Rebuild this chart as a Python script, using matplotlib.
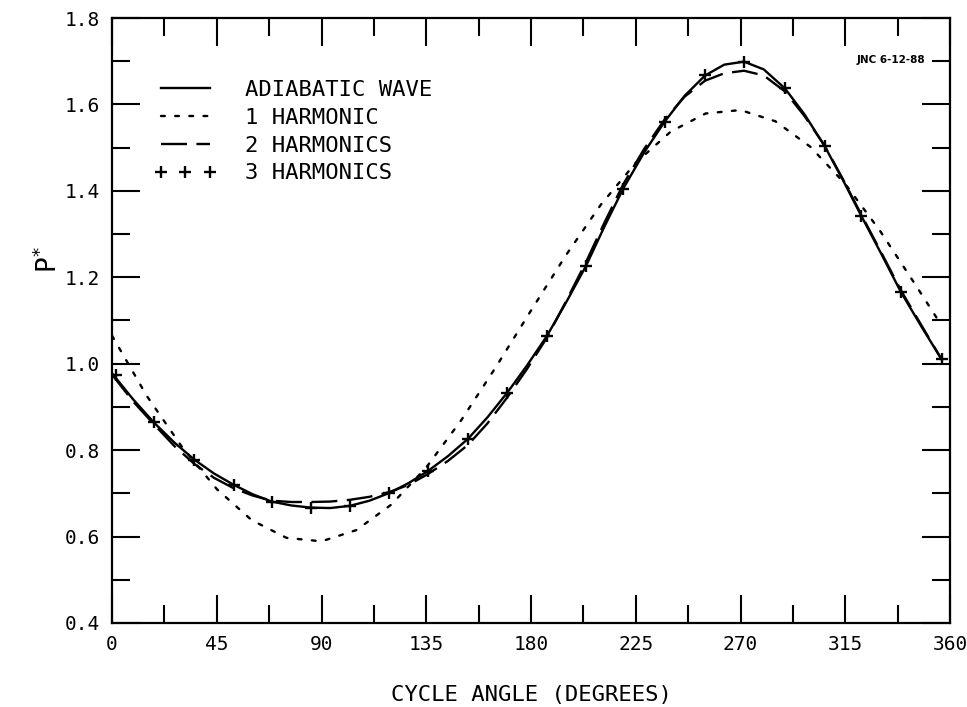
import matplotlib
matplotlib.use('Agg')
import matplotlib.pyplot as plt
from matplotlib.ticker import MultipleLocator, FormatStrFormatter

# ---- data ----
adiabatic_angle = [0, 9, 18.0, 26.7, 35.4, 43.8, 52.2, 60.4, 68.6, 77, 85.4, 93.7, 102.1,
                   110.6, 119.2, 127.5, 135.8, 144.3, 152.9, 161.3, 169.8, 178.3, 186.8,
                   195.2, 203.6, 211.6, 219.6, 228.5, 237.4, 246, 254.8, 263, 271.5, 280,
                   289.1, 297.5, 306.1, 314, 321.9, 330.4, 338.9, 347.6, 356.4]
adiabatic_p = [0.978, 0.918, 0.864, 0.818, 0.778, 0.746, 0.720, 0.698, 0.681, 0.672, 0.667,
               0.666, 0.671, 0.683, 0.701, 0.724, 0.752, 0.786, 0.826, 0.876, 0.933, 0.996,
               1.064, 1.143, 1.226, 1.318, 1.405, 1.488, 1.560, 1.620, 1.667, 1.692, 1.699,
               1.681, 1.637, 1.577, 1.504, 1.425, 1.342, 1.255, 1.166, 1.087, 1.010]

harm1_angle = [0, 15, 30, 45, 60, 75, 90, 105, 120, 135, 150, 165, 180, 195, 210, 225,
               240, 255, 270, 285, 300, 315, 330, 345, 355]
harm1_p = [1.065, 0.925, 0.808, 0.710, 0.638, 0.597, 0.589, 0.615, 0.674, 0.760, 0.869,
           0.993, 1.123, 1.251, 1.368, 1.465, 1.537, 1.579, 1.587, 1.561, 1.502, 1.416,
           1.307, 1.184, 1.100]

harm2_angle = [0, 9, 18.0, 26.7, 35.4, 43.8, 52.2, 60.4, 68.6, 77, 85.4, 93.7, 102.1,
               110.6, 119.2, 127.5, 135.8, 144.3, 152.9, 161.3, 169.8, 178.3, 186.8,
               195.2, 203.6, 211.6, 219.6, 228.5, 237.4, 246, 254.8, 263, 271.5, 280,
               289.1, 297.5, 306.1, 314, 321.9, 330.4, 338.9, 347.6, 356.4]
harm2_p = [0.975, 0.913, 0.860, 0.810, 0.768, 0.736, 0.712, 0.695, 0.683, 0.680, 0.680,
           0.681, 0.685, 0.692, 0.703, 0.720, 0.745, 0.775, 0.812, 0.862, 0.922, 0.988,
           1.060, 1.146, 1.235, 1.327, 1.415, 1.496, 1.565, 1.618, 1.655, 1.672, 1.678,
           1.667, 1.630, 1.573, 1.505, 1.427, 1.345, 1.258, 1.170, 1.090, 1.010]

harm3_angle = [1.9, 18.0, 35.4, 52.2, 68.6, 85.4, 102.1, 119.2, 135.8, 152.9, 169.8,
               186.8, 203.6, 219.6, 237.4, 254.8, 271.5, 289.1, 306.1, 321.9, 338.9, 356.4]
harm3_p = [0.975, 0.864, 0.778, 0.720, 0.681, 0.667, 0.671, 0.701, 0.752, 0.826, 0.933,
           1.064, 1.226, 1.405, 1.560, 1.667, 1.699, 1.637, 1.504, 1.342, 1.166, 1.010]

labels = ['ADIABATIC WAVE', '1 HARMONIC', '2 HARMONICS', '3 HARMONICS']

MONO = 'DejaVu Sans Mono'
plt.rcParams['font.family'] = [MONO]

fig = plt.figure(figsize=(9.67, 7.07), dpi=100)
ax = fig.add_axes([112/967, 1 - 623/707, (950-112)/967, (623-18)/707])

lw = 1.7
ax.plot(adiabatic_angle, adiabatic_p, color='black', lw=lw, label=labels[0])
ax.plot(harm1_angle, harm1_p, color='black', lw=lw, linestyle=(0, (1.6, 4.4)),
        dash_capstyle='round', label=labels[1])
ax.plot(harm2_angle, harm2_p, color='black', lw=lw, linestyle=(0, (11, 4)), label=labels[2])
ax.plot(harm3_angle, harm3_p, color='black', linestyle='none', marker='+',
        markersize=8.5, markeredgewidth=1.7, label=labels[3])

ax.set_xlim(0, 360)
ax.set_ylim(0.4, 1.8)
ax.xaxis.set_major_locator(MultipleLocator(45))
ax.xaxis.set_minor_locator(MultipleLocator(22.5))
ax.yaxis.set_major_locator(MultipleLocator(0.2))
ax.yaxis.set_minor_locator(MultipleLocator(0.1))
ax.yaxis.set_major_formatter(FormatStrFormatter('%.1f'))

ax.tick_params(which='major', direction='in', length=20, width=1.5, top=True, right=True,
               labelsize=14, pad=9)
ax.tick_params(which='minor', direction='in', length=13, width=1.5, top=True, right=True)
for s in ax.spines.values():
    s.set_linewidth(1.6)

ax.set_xlabel('CYCLE ANGLE (DEGREES)', fontsize=16, labelpad=22)
ax.set_ylabel('P$^{*}$', fontsize=19)
ax.yaxis.set_label_coords(-0.058, 0.6)

ax.text(0.93, 0.93, 'JNC 6-12-88', transform=ax.transAxes, fontsize=7.5,
        fontweight='bold', family='DejaVu Sans', ha='center', va='center')

leg = ax.legend(loc='upper left', bbox_to_anchor=(154/967, 1 - 80/707),
                bbox_transform=fig.transFigure, frameon=False, fontsize=16,
                handlelength=2.8, handletextpad=1.3, labelspacing=0.35,
                borderpad=0, borderaxespad=0, numpoints=3)

fig.savefig('out.png', dpi=100)
